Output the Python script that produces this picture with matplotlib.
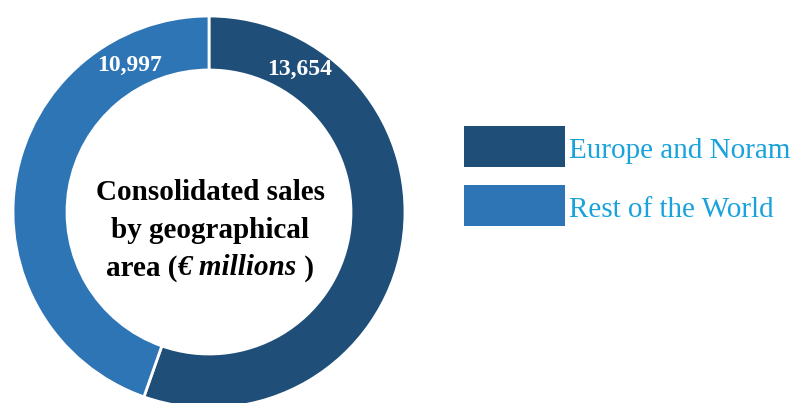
import matplotlib.pyplot as plt
from matplotlib.patches import Rectangle
from matplotlib.offsetbox import TextArea, HPacker, AnnotationBbox
import numpy as np

regions = ["Europe and Noram", "Rest of the World"]
sales = [13654, 10997]
value_labels = ["13,654", "10,997"]
colors = ["#1f4e79", "#2e75b6"]
legend_color = "#1aa2dc"

plt.rcParams["font.family"] = ["Liberation Serif", "DejaVu Serif"]

W, H = 793, 403
fig = plt.figure(figsize=(W / 100, H / 100), dpi=100)
ax = fig.add_axes([0, 0, 1, 1])

# donut in pixel units (y up)
cx, cy = 209, H - 212
r_out, ring = 196, 54
ax.pie(sales, colors=colors, startangle=90, counterclock=False,
       radius=r_out, center=(cx, cy),
       wedgeprops=dict(width=ring, edgecolor="white", linewidth=2))
ax.set_xlim(0, W)
ax.set_ylim(0, H)
ax.set_aspect("equal")
ax.axis("off")

# value labels sit on the ring midline, angle measured clockwise from top
label_angles = [32.6, -28.5]
label_radius = [169, 167]
for text, ang, r in zip(value_labels, label_angles, label_radius):
    a = np.deg2rad(ang)
    ax.text(cx + r * np.sin(a), cy + r * np.cos(a), text,
            color="white", fontsize=17, fontweight="bold",
            ha="center", va="center")

# centre caption
fs = 21
ax.text(cx + 1, cy + 19, "Consolidated sales", fontsize=fs, fontweight="bold",
        ha="center", va="center")
ax.text(cx + 1, cy - 18, "by geographical", fontsize=fs, fontweight="bold",
        ha="center", va="center")
parts = [
    TextArea("area (", textprops=dict(fontsize=fs, fontweight="bold")),
    TextArea("€ millions", textprops=dict(fontsize=fs, fontweight="bold",
                                          fontstyle="italic")),
    TextArea(" )", textprops=dict(fontsize=fs, fontweight="bold")),
]
line3 = HPacker(children=parts, align="baseline", pad=0, sep=0)
ax.add_artist(AnnotationBbox(line3, (cx + 1, cy - 56), frameon=False,
                             box_alignment=(0.5, 0.5), pad=0))

# legend
lx, ly0, pitch = 464, H - 126, 59
for i, (name, col) in enumerate(zip(regions, colors)):
    top = ly0 - i * pitch
    ax.add_patch(Rectangle((lx, top - 41), 101, 41, facecolor=col,
                           edgecolor="none"))
    ax.text(lx + 105, top - 25, name, color=legend_color, fontsize=21,
            ha="left", va="center")

fig.savefig("out.png", dpi=100)
